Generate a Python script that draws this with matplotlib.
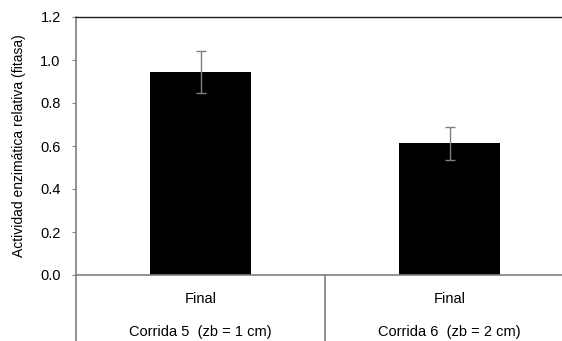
import matplotlib.pyplot as plt
import matplotlib.transforms as mtransforms

plt.rcParams['font.family'] = ['Liberation Sans', 'DejaVu Sans']

# Actividad relativa al final de cada corrida
corridas = ['Corrida 5  (zb = 1 cm)', 'Corrida 6  (zb = 2 cm)']
etapas = ['Final', 'Final']
actividad = [0.943, 0.613]
error = [0.097, 0.077]

gris = '#808080'

fig = plt.figure(figsize=(5.62, 3.41), dpi=100)
ax = fig.add_axes([76 / 562, 66 / 341, 498 / 562, 258 / 341])

x = list(range(len(actividad)))
ax.bar(x, actividad, width=0.405, color='black', edgecolor='none', zorder=2)
ax.errorbar(x, actividad, yerr=error, fmt='none', ecolor=gris,
            elinewidth=1.0, capsize=3.5, capthick=1.0, zorder=3)

ax.set_xlim(-0.5, len(actividad) - 0.5)
ax.set_ylim(0, 1.2)
ax.set_yticks([0.0, 0.2, 0.4, 0.6, 0.8, 1.0, 1.2])
ax.set_yticklabels([f'{v:.1f}' for v in ax.get_yticks()], fontsize=10.5)
ax.tick_params(axis='y', direction='out', length=3, width=0.8, color=gris, pad=8)

ax.set_xticks(x)
ax.set_xticklabels(etapas, fontsize=10.5)
ax.tick_params(axis='x', length=0, pad=12)

ax.set_ylabel('Actividad enzimática relativa (fitasa)', fontsize=10, labelpad=10)

for side in ['left', 'bottom']:
    ax.spines[side].set_color(gris)
    ax.spines[side].set_linewidth(1.2)
ax.spines['top'].set_color('#202020')
ax.spines['top'].set_linewidth(1.0)
ax.spines['right'].set_visible(False)

# separadores de categorías bajo el eje
trans = mtransforms.blended_transform_factory(ax.transData, ax.transAxes)
y_fondo = -66 / 258
for xs in [-0.5, 0.5]:
    ax.plot([xs, xs], [0, y_fondo], transform=trans, color=gris,
            linewidth=1.2, clip_on=False)

for xi, nombre in zip(x, corridas):
    ax.text(xi, -0.222, nombre, transform=trans, ha='center', va='center',
            fontsize=10.5)

fig.savefig('out.png', dpi=100)
